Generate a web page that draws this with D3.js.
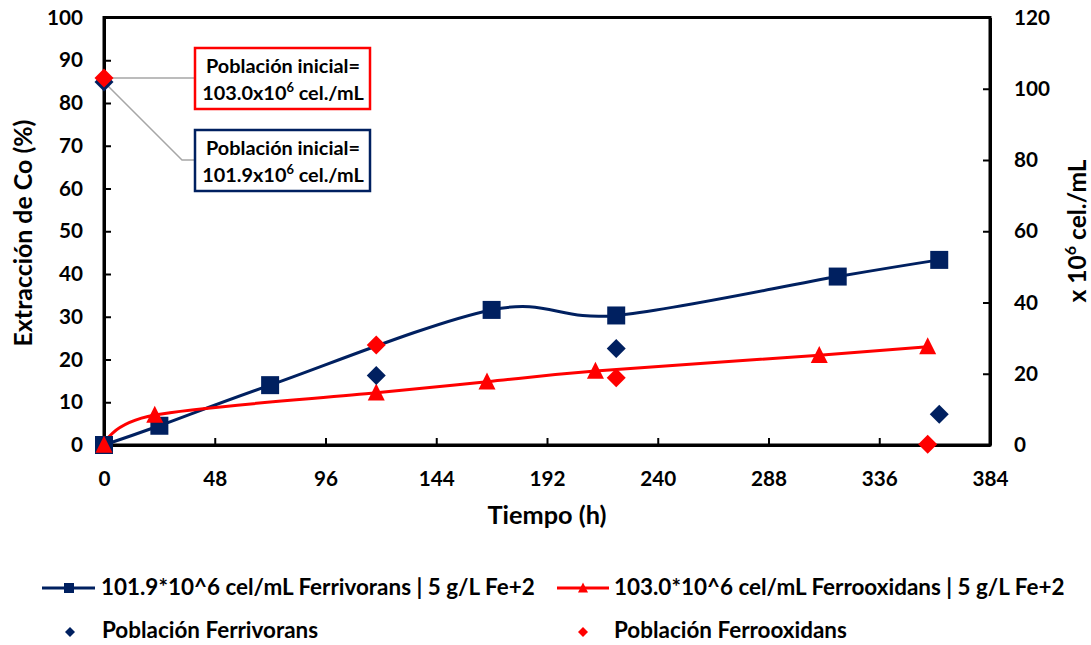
<!DOCTYPE html>
<html>
<head>
<meta charset="utf-8">
<script src="https://cdn.jsdelivr.net/npm/d3@7"></script>
<style>
  html, body { margin: 0; padding: 0; background: #fff; }
  svg text { font-family: Lato, "Open Sans", sans-serif; font-weight: bold; fill: #000; }
</style>
</head>
<body>
<svg id="chart" width="1091" height="645"></svg>
<script>
// Co extraction (%) over time for two bacterial cultures, plus cell populations (right axis)
const ferrivTime = [0, 24, 72, 168, 222, 318, 362];
const ferrivExtr = [0, 4.5, 14.0, 31.6, 30.3, 39.4, 43.3];
const ferrooxTime = [0, 22, 118, 166, 213, 310, 357];
const ferrooxExtr = [0, 7.0, 12.2, 14.8, 17.3, 21.0, 23.0];

const ferrivPopTime = [0, 118, 222, 362];
const ferrivPop = [101.9, 19.5, 27.1, 8.6];
const ferrooxPopTime = [0, 118, 222, 357];
const ferrooxPop = [103.0, 28.1, 18.9, 0.2];

const xTicks = [0, 48, 96, 144, 192, 240, 288, 336, 384];
const yLeftTicks = [0, 10, 20, 30, 40, 50, 60, 70, 80, 90, 100];
const yRightTicks = [0, 20, 40, 60, 80, 100, 120];

const seriesNames = [
  "101.9*10^6 cel/mL Ferrivorans | 5 g/L Fe+2",
  "103.0*10^6 cel/mL Ferrooxidans | 5 g/L Fe+2",
  "Población Ferrivorans",
  "Población Ferrooxidans"
];

const NAVY = "#002060", RED = "#ff0000";

const svg = d3.select("#chart");
const plot = { left: 104, right: 990, top: 17.5, bottom: 445 };

// scale a text's font size so that it spans the given width
function fitWidth(sel, width) {
  const fs = parseFloat(sel.attr("font-size"));
  const w = sel.node().getComputedTextLength();
  const size = fs * width / w;
  sel.attr("font-size", size);
  return size;
}

const x = d3.scaleLinear().domain([0, 384]).range([plot.left, plot.right]);
const yL = d3.scaleLinear().domain([0, 100]).range([plot.bottom, plot.top]);
const yR = d3.scaleLinear().domain([0, 120]).range([plot.bottom, plot.top]);

// tick label size, sized from a pair of labels
const probe = svg.append("text").attr("font-size", 20).text("10048");
const tickSize = fitWidth(probe, 60);
probe.remove();

function styleAxis(g) {
  g.select(".domain").attr("stroke", "#000").attr("stroke-width", 3);
  g.selectAll(".tick line").attr("stroke", "#000").attr("stroke-width", 2);
  g.selectAll(".tick text").attr("font-size", tickSize)
    .attr("font-family", "Lato").attr("font-weight", "bold");
}

// frame
svg.append("rect")
  .attr("x", plot.left).attr("y", plot.top)
  .attr("width", plot.right - plot.left).attr("height", plot.bottom - plot.top)
  .attr("fill", "none").attr("stroke", "#000").attr("stroke-width", 3);

svg.append("g").attr("transform", `translate(0,${plot.bottom})`)
  .call(d3.axisBottom(x).tickValues(xTicks).tickSizeInner(-7).tickSizeOuter(0))
  .call(styleAxis)
  .call(g => g.selectAll(".tick text").attr("y", 41).attr("dy", 0));

svg.append("g").attr("transform", `translate(${plot.left},0)`)
  .call(d3.axisLeft(yL).tickValues(yLeftTicks).tickSizeInner(-7).tickSizeOuter(0).tickPadding(21))
  .call(styleAxis);

svg.append("g").attr("transform", `translate(${plot.right},0)`)
  .call(d3.axisRight(yR).tickValues(yRightTicks).tickSizeInner(-7).tickSizeOuter(0).tickPadding(24))
  .call(styleAxis);

// axis titles
const xt = svg.append("text").attr("x", 547).attr("y", 524).attr("text-anchor", "middle")
  .attr("font-size", 24).text("Tiempo (h)");
fitWidth(xt, 119);

const lt = svg.append("text").attr("transform", "translate(32,233) rotate(-90)")
  .attr("text-anchor", "middle").attr("font-size", 24).text("Extracción de Co (%)");
fitWidth(lt, 227);

const rt = svg.append("text").attr("transform", "translate(1086,231) rotate(-90)")
  .attr("text-anchor", "middle").attr("font-size", 24);
rt.append("tspan").text("x 10");
rt.append("tspan").attr("font-size", "0.65em").attr("dy", "-0.6em").text("6");
rt.append("tspan").attr("dy", "0.39em").text(" cel./mL");
fitWidth(rt, 143);

// smoothed lines
const line = (ys) => d3.line()
  .x(d => x(d[0])).y(d => ys(d[1]))
  .curve(d3.curveCatmullRom.alpha(0));

const ferrivData = d3.zip(ferrivTime, ferrivExtr);
const ferrooxData = d3.zip(ferrooxTime, ferrooxExtr);

svg.append("path").datum(ferrivData).attr("d", line(yL))
  .attr("fill", "none").attr("stroke", NAVY).attr("stroke-width", 3);
svg.append("path").datum(ferrooxData).attr("d", line(yL))
  .attr("fill", "none").attr("stroke", RED).attr("stroke-width", 3);

// leader lines for the callouts
const lead = svg.append("g").attr("stroke", "#a6a6a6").attr("stroke-width", 1.5).attr("fill", "none");
lead.append("path").attr("d", `M${x(ferrooxPopTime[0])},${yR(ferrooxPop[0])}H195`);
lead.append("path").attr("d", `M${x(ferrivPopTime[0])},${yR(ferrivPop[0])}L182,160H195`);

// markers
const squarePath = s => `M${-s/2},${-s/2}h${s}v${s}h${-s}Z`;
const diamondPath = s => `M0,${-s/2}L${s/2},0L0,${s/2}L${-s/2},0Z`;
const trianglePath = s => `M0,${-s*0.55}L${s/2},${s*0.45}L${-s/2},${s*0.45}Z`;

svg.append("g").selectAll("path").data(ferrivData).join("path")
  .attr("transform", d => `translate(${x(d[0])},${yL(d[1])})`)
  .attr("d", squarePath(18)).attr("fill", NAVY);

svg.append("g").selectAll("path").data(ferrooxData).join("path")
  .attr("transform", d => `translate(${x(d[0])},${yL(d[1])})`)
  .attr("d", trianglePath(17)).attr("fill", RED);

svg.append("g").selectAll("path").data(d3.zip(ferrivPopTime, ferrivPop)).join("path")
  .attr("transform", d => `translate(${x(d[0])},${yR(d[1])})`)
  .attr("d", diamondPath(19)).attr("fill", NAVY);

svg.append("g").selectAll("path").data(d3.zip(ferrooxPopTime, ferrooxPop)).join("path")
  .attr("transform", d => `translate(${x(d[0])},${yR(d[1])})`)
  .attr("d", diamondPath(19)).attr("fill", RED);

// callout boxes
function callout(y0, color, value) {
  const g = svg.append("g");
  g.append("rect").attr("x", 195).attr("y", y0).attr("width", 175).attr("height", 61)
    .attr("fill", "#fff").attr("stroke", color).attr("stroke-width", 2.5);
  const t1 = g.append("text").attr("x", 283).attr("y", y0 + 25).attr("text-anchor", "middle")
    .attr("font-size", 18).text("Población inicial=");
  const size = fitWidth(t1, 154);
  const t2 = g.append("text").attr("x", 283).attr("y", y0 + 52).attr("text-anchor", "middle")
    .attr("font-size", size);
  t2.append("tspan").text(value + "x10");
  t2.append("tspan").attr("font-size", "0.65em").attr("dy", "-0.6em").text("6");
  t2.append("tspan").attr("dy", "0.39em").text(" cel./mL");
}
callout(48, RED, ferrooxPop[0].toFixed(1));
callout(130, NAVY, ferrivPop[0].toFixed(1));

// legend
const lg = svg.append("g");
// row 1: lines with markers
lg.append("line").attr("x1", 42).attr("x2", 95).attr("y1", 588).attr("y2", 588)
  .attr("stroke", NAVY).attr("stroke-width", 3);
lg.append("path").attr("transform", "translate(69,588)").attr("d", squarePath(10)).attr("fill", NAVY);
const l1 = lg.append("text").attr("x", 101).attr("y", 595).attr("font-size", 20).text(seriesNames[0]);
const legendSize = fitWidth(l1, 434);

lg.append("line").attr("x1", 557).attr("x2", 609).attr("y1", 588).attr("y2", 588)
  .attr("stroke", RED).attr("stroke-width", 3);
lg.append("path").attr("transform", "translate(583,588)").attr("d", trianglePath(10)).attr("fill", RED);
lg.append("text").attr("x", 614).attr("y", 595).attr("font-size", legendSize).text(seriesNames[1]);

// row 2: population markers
lg.append("path").attr("transform", "translate(70,632)").attr("d", diamondPath(10)).attr("fill", NAVY);
lg.append("text").attr("x", 102).attr("y", 638).attr("font-size", legendSize).text(seriesNames[2]);
lg.append("path").attr("transform", "translate(583,632)").attr("d", diamondPath(10)).attr("fill", RED);
lg.append("text").attr("x", 614).attr("y", 638).attr("font-size", legendSize).text(seriesNames[3]);
</script>
</body>
</html>
